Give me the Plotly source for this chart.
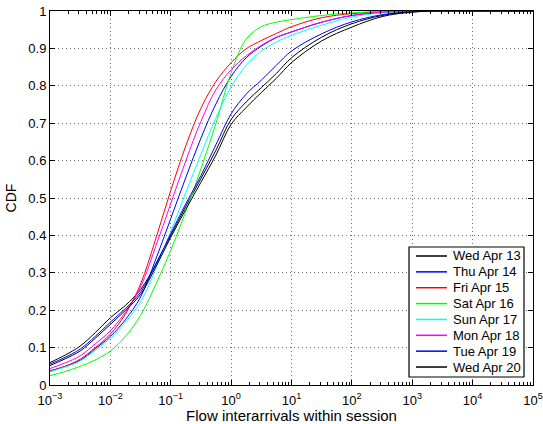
import plotly.graph_objects as go

# x positions (seconds) read on the log axis
X = [0.001, 0.00178, 0.00316, 0.00562, 0.01, 0.0178, 0.0316, 0.0562, 0.1, 0.178, 0.316, 0.562, 1.0,
     1.78, 3.16, 5.62, 10.0, 31.6, 100.0, 316.0, 1000.0, 3160.0, 10000.0, 100000.0]

wed_apr13 = [0.060, 0.080, 0.104, 0.140, 0.180, 0.213, 0.255, 0.322, 0.400, 0.478, 0.552, 0.628, 0.710,
             0.757, 0.795, 0.833, 0.875, 0.930, 0.966, 0.988, 0.998, 1.0, 1.0, 1.0]
thu_apr14 = [0.038, 0.050, 0.066, 0.097, 0.130, 0.175, 0.235, 0.335, 0.445, 0.555, 0.660, 0.752, 0.825,
             0.875, 0.906, 0.929, 0.944, 0.970, 0.988, 0.996, 0.999, 1.0, 1.0, 1.0]
fri_apr15 = [0.036, 0.050, 0.069, 0.100, 0.136, 0.190, 0.270, 0.390, 0.520, 0.640, 0.740, 0.812, 0.862,
             0.899, 0.921, 0.940, 0.958, 0.982, 0.993, 0.998, 1.0, 1.0, 1.0, 1.0]
sat_apr16 = [0.025, 0.036, 0.050, 0.067, 0.091, 0.130, 0.186, 0.268, 0.360, 0.465, 0.578, 0.700, 0.835,
             0.925, 0.958, 0.970, 0.977, 0.988, 0.995, 0.999, 1.0, 1.0, 1.0, 1.0]
sun_apr17 = [0.036, 0.048, 0.064, 0.093, 0.125, 0.168, 0.222, 0.310, 0.410, 0.515, 0.617, 0.715, 0.797,
             0.855, 0.893, 0.917, 0.935, 0.962, 0.984, 0.995, 0.999, 1.0, 1.0, 1.0]
mon_apr18 = [0.044, 0.059, 0.078, 0.110, 0.145, 0.195, 0.262, 0.370, 0.485, 0.600, 0.705, 0.790, 0.843,
             0.880, 0.908, 0.930, 0.944, 0.970, 0.988, 0.997, 0.999, 1.0, 1.0, 1.0]
tue_apr19 = [0.056, 0.074, 0.096, 0.130, 0.168, 0.205, 0.248, 0.322, 0.405, 0.485, 0.560, 0.643, 0.725,
             0.778, 0.815, 0.855, 0.893, 0.939, 0.971, 0.990, 0.998, 1.0, 1.0, 1.0]
wed_apr20 = [0.052, 0.070, 0.091, 0.125, 0.162, 0.200, 0.242, 0.315, 0.395, 0.470, 0.542, 0.615, 0.697,
             0.742, 0.782, 0.820, 0.862, 0.920, 0.957, 0.985, 0.997, 1.0, 1.0, 1.0]

names = ["Wed Apr 13", "Thu Apr 14", "Fri Apr 15", "Sat Apr 16",
         "Sun Apr 17", "Mon Apr 18", "Tue Apr 19", "Wed Apr 20"]
series = [wed_apr13, thu_apr14, fri_apr15, sat_apr16, sun_apr17, mon_apr18, tue_apr19, wed_apr20]
colors = ["#000000", "#0000ff", "#ff0000", "#00ff00", "#00ffff", "#ff00ff", "#0000ff", "#000000"]

X_TICKS = [1e-3, 1e-2, 1e-1, 1e0, 1e1, 1e2, 1e3, 1e4, 1e5]
X_LABELS = ["10<sup>−3</sup>", "10<sup>−2</sup>", "10<sup>−1</sup>", "10<sup>0</sup>",
            "10<sup>1</sup>", "10<sup>2</sup>", "10<sup>3</sup>", "10<sup>4</sup>", "10<sup>5</sup>"]
Y_TICKS = [0, 0.1, 0.2, 0.3, 0.4, 0.5, 0.6, 0.7, 0.8, 0.9, 1]
Y_LABELS = ["0", "0.1", "0.2", "0.3", "0.4", "0.5", "0.6", "0.7", "0.8", "0.9", "1"]

FONT = "Liberation Sans, Arial, sans-serif"
W, H = 543, 424
ML, MR, MT, MB = 50, 10, 11, 39
PW, PH = W - ML - MR, H - MT - MB

def px2x(px):
    return (px - ML) / PW

def py2y(py):
    return (H - MB - py) / PH

fig = go.Figure()
for n, s, c in zip(names, series, colors):
    fig.add_trace(go.Scatter(x=X, y=s, name=n, mode="lines", showlegend=False,
                             line=dict(color=c, width=1, shape="spline", smoothing=1.0)))

# legend drawn as a MATLAB-style box
shapes = [dict(type="rect", xref="paper", yref="paper",
               x0=px2x(409), x1=px2x(524), y0=py2y(377), y1=py2y(247),
               line=dict(color="black", width=1.2), fillcolor="white", layer="above")]
annotations = []
for i, (n, c) in enumerate(zip(names, colors)):
    cy = 256 + 15.86 * i
    shapes.append(dict(type="line", xref="paper", yref="paper",
                       x0=px2x(416), x1=px2x(447), y0=py2y(cy), y1=py2y(cy),
                       line=dict(color=c, width=1.5), layer="above"))
    annotations.append(dict(text=n, xref="paper", yref="paper", x=px2x(451), y=py2y(cy),
                            xanchor="left", yanchor="middle", showarrow=False,
                            font=dict(family=FONT, size=13, color="black")))

font = dict(family=FONT, size=13, color="black")
fig.update_layout(
    width=W, height=H,
    margin=dict(l=ML, r=MR, t=MT, b=MB, autoexpand=False),
    paper_bgcolor="white", plot_bgcolor="white",
    font=font, showlegend=False,
    shapes=shapes, annotations=annotations,
)
grid_dash = "1px,3px"
fig.update_xaxes(
    type="log", range=[-3, 5], tickvals=X_TICKS, ticktext=X_LABELS, automargin=False,
    showline=True, linecolor="black", linewidth=1, mirror="allticks",
    ticks="inside", ticklen=5, tickcolor="black",
    showgrid=True, gridcolor="#6e6e6e", griddash=grid_dash, gridwidth=1,
    minor=dict(ticks="inside", ticklen=3, tickcolor="black", dtick="D1", showgrid=False),
    zeroline=False, ticklabelstandoff=3,
    title=dict(text="Flow interarrivals within session", standoff=4,
               font=dict(family=FONT, size=15)),
    tickfont=font,
)
fig.update_yaxes(
    range=[0, 1], tickvals=Y_TICKS, ticktext=Y_LABELS, automargin=False,
    showline=True, linecolor="black", linewidth=1, mirror="ticks",
    ticks="inside", ticklen=5, tickcolor="black",
    showgrid=True, gridcolor="#6e6e6e", griddash=grid_dash, gridwidth=1,
    zeroline=False,
    title=dict(text="CDF", standoff=8, font=dict(family=FONT, size=14)),
    tickfont=font,
)
fig.write_html("out.html")
